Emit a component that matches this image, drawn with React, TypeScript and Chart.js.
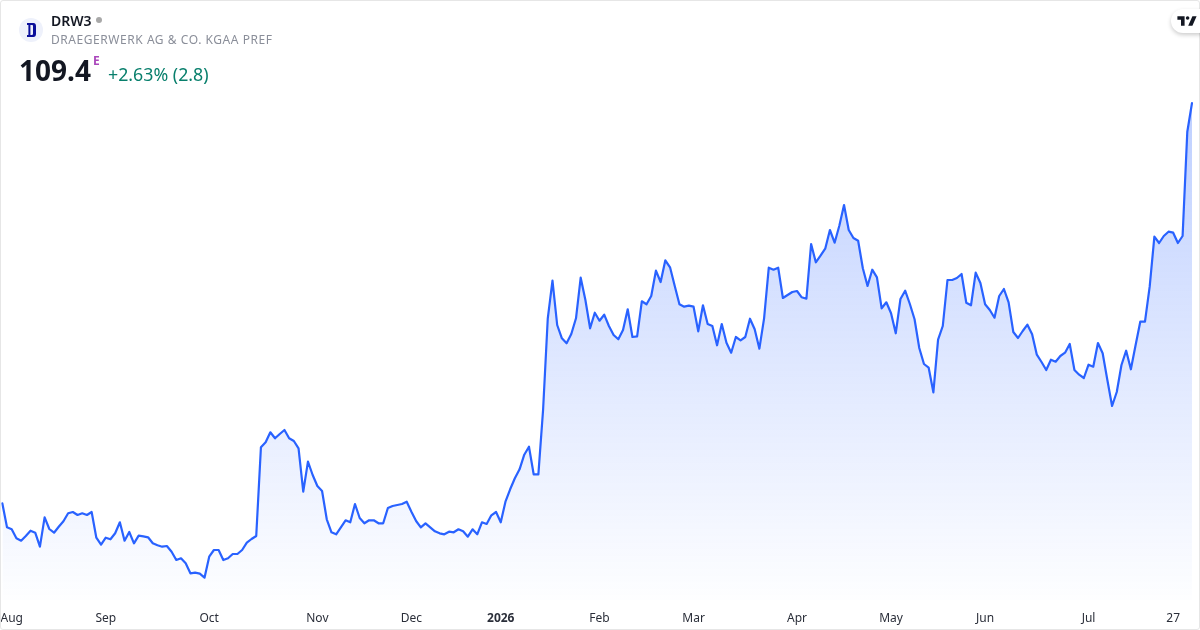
import React, { useEffect, useRef } from "react";
import { Chart, registerables } from "chart.js";

Chart.register(...registerables);

const closes: number[] = [
  69.37,66.97,66.77,65.87,65.63,66.1,66.63,66.43,65.03,67.97,66.8,66.43,67.03,67.57,68.37,68.5,68.2,68.37,68.2,68.5,
  65.93,65.23,65.93,65.77,66.37,67.47,65.63,66.5,65.37,66.13,66.07,65.97,65.37,65.17,65.03,65.1,64.53,63.7,63.87,63.37,
  62.37,62.43,62.33,61.93,64.03,64.7,64.7,63.7,63.87,64.3,64.3,64.7,65.43,65.8,66.1,74.97,75.47,76.47,75.87,76.3,76.7,75.87,75.6,74.87,
  70.53,73.53,72.2,71.1,70.6,67.77,66.47,66.27,66.97,67.67,67.47,69.3,67.9,67.37,67.67,67.67,67.37,67.37,68.9,69.1,69.2,69.3,69.53,68.53,67.6,66.97,67.37,66.97,66.57,66.37,66.27,66.53,66.47,66.77,66.57,66.03,66.77,66.27,67.47,67.3,68.17,68.5,67.47,69.53,70.77,71.87,72.77,74.23,75.03,72.27,72.27,78.7,
  87.87,91.63,87.2,85.87,85.37,86.3,87.87,91.93,89.7,86.87,88.43,87.63,88.23,87.1,86.2,85.77,86.7,88.77,86,86.07,89.57,89.27,90.1,92.63,91.5,93.67,92.97,91.1,89.27,89.03,89.13,89.03,86.57,89.17,87.3,87.1,85.17,87.3,85.43,84.43,86,85.67,86,87.83,86.77,84.83,87.87,92.93,92.73,92.93,89.9,
  90.2,90.5,90.6,89.97,89.83,95.3,93.47,94.13,94.83,96.7,95.43,97.13,99.2,96.7,95.9,95.63,92.87,91.1,92.73,91.97,88.87,89.47,88.37,86.37,89.8,90.63,89.3,87.77,84.9,83.3,82.93,80.47,85.73,87.1,91.7,91.7,91.9,92.3,89.43,89.17,92.43,91.4,
  89.27,88.7,87.93,90.1,90.8,89.47,86.5,85.9,86.6,87.23,86.27,84.23,83.5,82.7,83.73,83.53,84.1,84.43,85.3,82.7,82.23,81.9,83.23,83.03,85.4,84.37,81.7,79.1,80.5,83.2,84.63,82.77,85.17,87.53,87.53,91.03,96.03,95.4,96.1,96.53,96.43,95.4,96.1,106.53,109.4,
];

const tickLabels: string[] = ["Aug","Sep","Oct","Nov","Dec","2026","Feb","Mar","Apr","May","Jun","Jul","27"];
const tickIndices: number[] = [2,22,44,67,87,106,127,147,169,189,209,231,249];

const categories: string[] = closes.map((_, i) => {
  const k = tickIndices.indexOf(i);
  return k >= 0 ? tickLabels[k] : "";
});

export default function App() {
  const ref = useRef<HTMLCanvasElement | null>(null);
  useEffect(() => {
    const canvas = ref.current!;
    const ctx = canvas.getContext("2d")!;
    const grad = ctx.createLinearGradient(0, 103, 0, 612);
    grad.addColorStop(0, "rgba(41,98,255,0.30)");
    grad.addColorStop(1, "rgba(41,98,255,0)");
    const chart = new Chart(canvas, {
      type: "line",
      data: {
        labels: categories,
        datasets: [{
          data: closes,
          borderColor: "#2962ff",
          borderWidth: 2.2,
          borderJoinStyle: "round",
          borderCapStyle: "round",
          backgroundColor: grad,
          fill: "start",
          pointRadius: 0,
          tension: 0,
        }],
      },
      options: {
        animation: false,
        responsive: false,
        devicePixelRatio: 1,
        layout: { padding: { left: 2.3, right: 8, top: 0, bottom: 0 } },
        plugins: { legend: { display: false }, tooltip: { enabled: false }, title: { display: false } },
        scales: {
          y: { display: false, min: 59.7, max: 119.7 },
          x: {
            offset: false,
            border: { display: false },
            grid: { display: false },
            afterFit: (s: any) => { s.height = 30; s.paddingLeft = 0; s.paddingRight = 0; },
            ticks: {
              autoSkip: false,
              maxRotation: 0,
              minRotation: 0,
              padding: 3,
              color: "#2a2e39",
              font: (c: any) => ({
                family: "'Noto Sans', sans-serif",
                size: 12,
                weight: c.tick && c.tick.label === "2026" ? "bold" : "normal",
              }),
              callback: (_v: any, i: number) => categories[i] || undefined,
            },
          },
        },
      },
    } as any);
    return () => chart.destroy();
  }, []);

  const font = "'Noto Sans', sans-serif";
  return (
    <div style={{ position: "fixed", inset: 0, background: "#fff", fontFamily: font, overflow: "hidden" }}>
      <canvas ref={ref} width={1200} height={630} style={{ position: "absolute", left: 0, top: 0, width: 1200, height: 630 }} />
      <div style={{ position: "absolute", left: 0, top: 0, width: 1200, height: 630, boxSizing: "border-box", border: "1px solid #e6e6e6", borderRadius: 3, pointerEvents: "none" }} />
      <svg width="24" height="24" viewBox="0 0 24 24" style={{ position: "absolute", left: 19, top: 18 }}>
        <circle cx="12" cy="12" r="12" fill="#eef1fb" />
        <path d="M8 5h6.5c1.5 0 2.5 1.2 2.5 3v8c0 1.8-1 3-2.5 3H8v-2h1.4V7H8z M11.4 7v10h1.6c.7 0 1-.5 1-1.2V8.2c0-.7-.3-1.2-1-1.2z" fillRule="evenodd" fill="#0b0f9a" />
      </svg>
      <div style={{ position: "absolute", left: 51, top: 11, fontSize: 14, lineHeight: "20px", fontWeight: 600, color: "#131722" }}>DRW3</div>
      <div style={{ position: "absolute", left: 96, top: 17, width: 6, height: 6, borderRadius: 3, background: "#a8a8a8" }} />
      <div style={{ position: "absolute", left: 51, top: 30, fontSize: 12, lineHeight: "20px", letterSpacing: 0.55, color: "#8a8e99", whiteSpace: "nowrap" }}>DRAEGERWERK AG &amp; CO. KGAA PREF</div>
      <div style={{ position: "absolute", left: 19, top: 50, fontSize: 28, lineHeight: "40px", fontWeight: 700, color: "#131722" }}>109.4</div>
      <div style={{ position: "absolute", left: 93, top: 54, fontSize: 12, lineHeight: "14px", fontWeight: 700, color: "#ab47bc" }}>E</div>
      <div style={{ position: "absolute", left: 108, top: 62, fontSize: 17.8, lineHeight: "24px", color: "#087f6c", whiteSpace: "nowrap" }}>+2.63% (2.8)</div>
      <div style={{ position: "absolute", left: 1171, top: 9, width: 40, height: 24, borderRadius: 12, background: "#fff", boxShadow: "0 2px 4px rgba(0,0,0,0.2)" }} />
      <svg width="22" height="12" viewBox="0 0 36 20" style={{ position: "absolute", left: 1176, top: 15 }}>
        <path d="M14 18H8V8H2V2h12zM34 2 27 18h-7l7-16z" fill="#131722" />
        <circle cx="19" cy="5" r="3" fill="#131722" />
      </svg>
    </div>
  );
}
